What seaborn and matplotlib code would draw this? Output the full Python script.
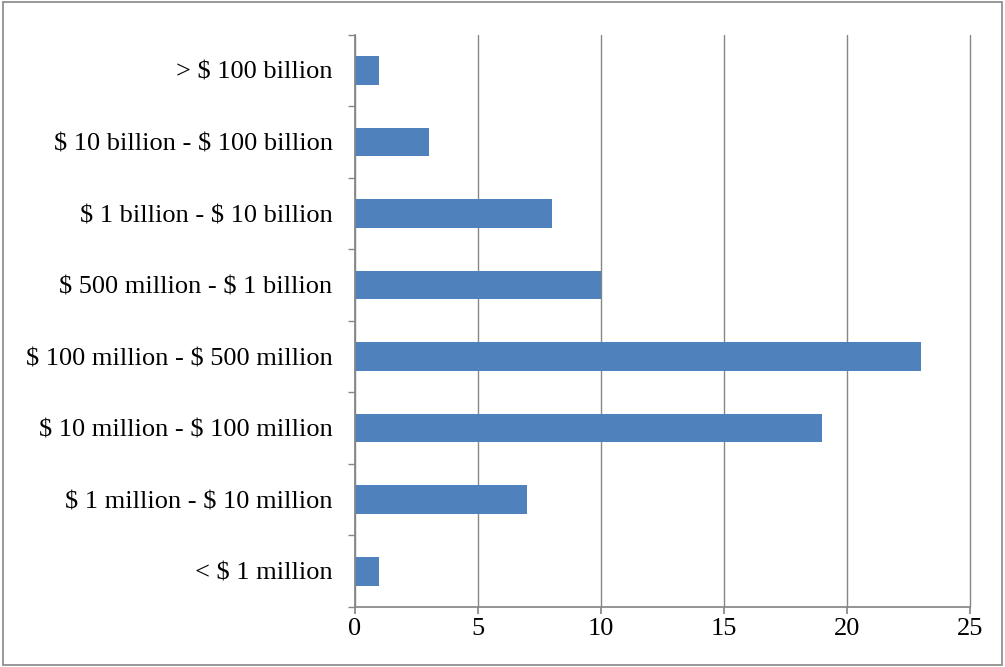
import matplotlib.pyplot as plt
import pandas as pd
import seaborn as sns

categories = [
    "> $ 100 billion",
    "$ 10 billion - $ 100 billion",
    "$ 1 billion - $ 10 billion",
    "$ 500 million - $ 1 billion",
    "$ 100 million - $ 500 million",
    "$ 10 million - $ 100 million",
    "$ 1 million - $ 10 million",
    "< $ 1 million",
]
counts = [1, 3, 8, 10, 23, 19, 7, 1]

df = pd.DataFrame({"category": categories, "count": counts})

sns.set_theme(style="white")
plt.rcParams["font.family"] = ["Liberation Serif", "DejaVu Serif"]
plt.rcParams["text.parse_math"] = False

fig = plt.figure(figsize=(10.05, 6.67), dpi=100)
ax = fig.add_axes([0.353, 0.09, 0.612, 0.858])

sns.barplot(data=df, x="count", y="category", ax=ax, color="#4f81bd",
            width=0.4, saturation=1, orient="h", edgecolor="none", linewidth=0)

ax.set_xlim(0, 25)
ax.set_ylim(7.5, -0.5)
ax.set_xticks(range(0, 26, 5))
ax.xaxis.grid(True, color="#868686", linewidth=1, clip_on=False)
ax.set_axisbelow(True)
ax.set_xlabel("")
ax.set_ylabel("")
for side in ["top", "right"]:
    ax.spines[side].set_visible(False)
for side in ["left", "bottom"]:
    ax.spines[side].set_color("#868686")
ax.tick_params(axis="x", labelsize=19, labelcolor="black", length=5, color="#868686", bottom=True, pad=3)
ax.tick_params(axis="y", labelsize=19, labelcolor="black", length=0, pad=16)
ax.set_yticks([i + 0.5 for i in range(-1, 8)], minor=True)
ax.tick_params(axis="y", which="minor", length=5, color="#868686", left=True)

fig.patches.append(plt.Rectangle((0.003, 0.003), 0.994, 0.994, transform=fig.transFigure,
                                 fill=False, edgecolor="#868686", linewidth=1.2))

fig.savefig("out.png", dpi=100)
